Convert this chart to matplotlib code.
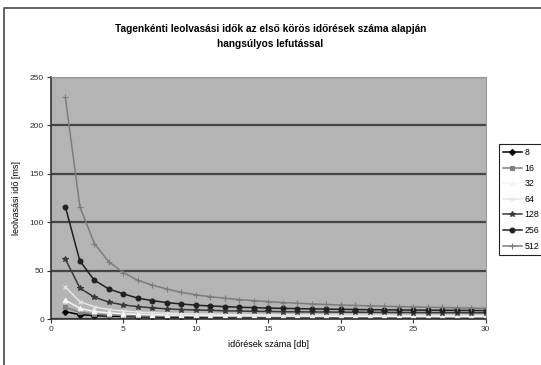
import numpy as np
import matplotlib.pyplot as plt
from matplotlib.lines import Line2D

plt.rcParams['font.family'] = ['Liberation Sans', 'DejaVu Sans']

x = list(range(1, 31))
labels = ['8', '16', '32', '64', '128', '256', '512']
s8 = [7.6, 4.5, 3.5, 3, 2.6, 2.3, 2.1, 2, 1.9, 1.8, 1.7, 1.7, 1.6, 1.6, 1.5,
      1.5, 1.5, 1.4, 1.4, 1.4, 1.3, 1.3, 1.3, 1.3, 1.3, 1.2, 1.2, 1.2, 1.2, 1.2]
s16 = [12, 7, 5, 4.2, 3.6, 3.3, 3, 2.8, 2.7, 2.6, 2.5, 2.4, 2.3, 2.3, 2.2,
       2.2, 2.1, 2.1, 2.1, 2, 2, 2, 2, 1.9, 1.9, 1.9, 1.9, 1.9, 1.8, 1.8]
s32 = [19.5, 11, 7.8, 6.3, 5.4, 4.8, 4.4, 4.1, 3.9, 3.7, 3.5, 3.4, 3.3, 3.2, 3.1,
       3.1, 3, 3, 2.9, 2.9, 2.8, 2.8, 2.8, 2.7, 2.7, 2.7, 2.6, 2.6, 2.6, 2.6]
s64 = [33, 18, 12.5, 9.8, 8.2, 7.2, 6.5, 6, 5.6, 5.3, 5.1, 4.9, 4.7, 4.6, 4.5,
       4.4, 4.3, 4.2, 4.1, 4.1, 4, 4, 3.9, 3.9, 3.8, 3.8, 3.8, 3.7, 3.7, 3.7]
s128 = [62, 32, 22.5, 17.5, 14.5, 12.8, 11.5, 10.5, 9.8, 9.3, 8.9, 8.5, 8.2, 8, 7.8,
        7.6, 7.4, 7.3, 7.2, 7.1, 7, 6.9, 6.8, 6.7, 6.7, 6.6, 6.6, 6.5, 6.5, 6.4]
s256 = [116, 60, 40, 31, 26, 21.5, 19, 17, 15.5, 14.3, 13.5, 12.8, 12.2, 11.7, 11.3,
        11, 10.7, 10.4, 10.2, 10, 9.8, 9.6, 9.5, 9.3, 9.2, 9.1, 9, 8.9, 8.8, 8.7]
s512 = [229, 116, 78, 59, 48, 40, 35, 31, 27.5, 25, 23, 21.5, 20, 19, 18,
        17, 16.3, 15.6, 15, 14.5, 14, 13.6, 13.2, 12.8, 12.5, 12.2, 11.9, 11.6, 11.3, 11]
series = [s8, s16, s32, s64, s128, s256, s512]

colors = ['#000000', '#808080', '#f4f4f4', '#e6e6e6', '#383838', '#202020', '#7c7c7c']
markers = ['D', 's', '^', 'x', '*', 'o', '+']
msizes = [3, 3, 3.5, 3.5, 4, 3.5, 4]

fig = plt.figure(figsize=(5.41, 3.65), dpi=100)
# chart area border (only left and top edges visible, the rest is cropped)
fig.lines.append(Line2D([0.008, 0.008, 1.0], [0.0, 0.978, 0.978], transform=fig.transFigure,
                        color='#555555', linewidth=1.3))

ax = fig.add_axes([0.094, 0.126, 0.804, 0.663])
ax.set_facecolor('#b4b4b4')
for i in range(len(series)):
    ax.plot(x, series[i], color=colors[i], marker=markers[i], markersize=msizes[i],
            linewidth=1.1, label=labels[i], markeredgewidth=0.8)

ax.set_xlim(0, 30)
ax.set_ylim(0, 250)
ax.set_xticks(range(0, 31, 5))
ax.set_yticks(range(0, 251, 50))
ax.yaxis.grid(True, color='#444444', linewidth=1.6)
ax.set_axisbelow(True)
ax.tick_params(labelsize=6, length=3, width=0.8, colors='#333333', pad=2)
for side in ['top', 'right']:
    ax.spines[side].set_color('#999999')
for side in ['left', 'bottom']:
    ax.spines[side].set_color('#333333')
    ax.spines[side].set_linewidth(1.2)

ax.set_xlabel('időrések száma [db]', fontsize=6.5, labelpad=5)
ax.set_ylabel('leolvasási idő [ms]', fontsize=6.5, labelpad=6)
fig.text(0.5, 0.9, 'Tagenkénti leolvasási idők az első körös időrések száma alapján\nhangsúlyos lefutással',
         ha='center', va='center', fontsize=7.3, fontweight='bold', linespacing=1.6)

leg = ax.legend(loc='upper left', bbox_to_anchor=(1.02, 0.74), fontsize=6.3,
                frameon=True, fancybox=False, edgecolor='#222222', framealpha=1,
                handlelength=2.2, labelspacing=0.75, borderpad=0.45, handletextpad=0.3)
leg.get_frame().set_linewidth(0.8)

fig.savefig('out.png', dpi=100)
